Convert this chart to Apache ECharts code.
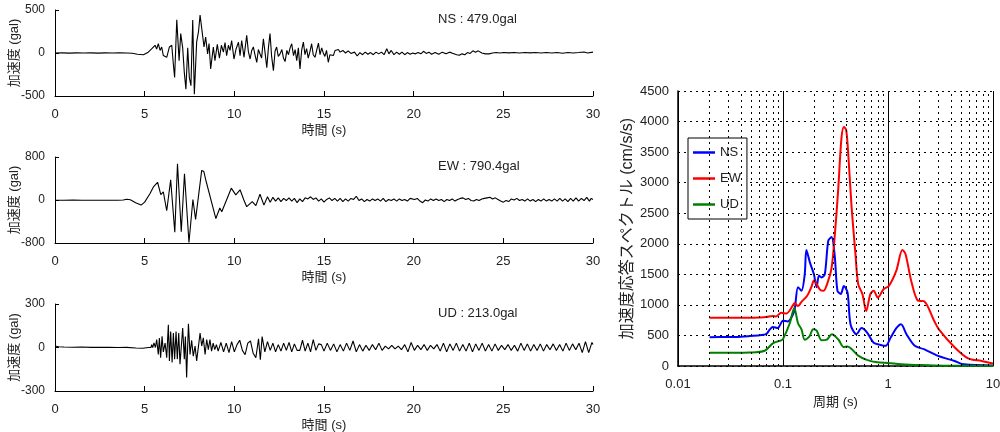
<!DOCTYPE html>
<html>
<head>
<meta charset="utf-8">
<script src="https://cdn.jsdelivr.net/npm/echarts@6/dist/echarts.min.js"></script>
<style>
html,body{margin:0;padding:0;background:#fff;}
#c{width:1000px;height:432px;}
</style>
</head>
<body>
<div id="c"></div>
<script>
// ---------- Data ----------
const componentNames = ['NS', 'EW', 'UD'];
const peakLabels = ['NS : 479.0gal', 'EW : 790.4gal', 'UD : 213.0gal'];
const waveRanges = [500, 800, 300];

// [time (s), acceleration (gal)]
const nsWave = [
[0,0],[0.4,2],[0.8,-1],[1.2,1],[1.6,0],[2.0,2],[2.4,-1],[2.8,1],[3.2,0],[3.6,2],[4.0,0],[4.3,-3],[4.6,-15],[4.93,-20],
[5.2,10],[5.4,50],[5.58,90],[5.67,45],[5.76,110],[5.86,30],[5.95,70],[6.04,-30],[6.12,-10],[6.23,-50],[6.38,70],[6.51,90],
[6.6,-130],[6.67,-285],[6.79,385],[6.92,-90],[7.01,225],[7.12,60],[7.21,-225],[7.3,-420],[7.4,60],[7.49,-285],[7.58,-380],
[7.68,385],[7.77,-479],[7.9,130],[8.0,245],[8.09,440],[8.18,460],[8.31,70],[8.4,185],[8.51,-10],[8.59,110],[8.68,-185],
[8.83,70],[8.92,-90],[9.05,100],[9.17,-60],[9.28,90],[9.39,10],[9.48,120],[9.57,-30],[9.67,90],[9.76,30],[9.85,145],
[9.98,-70],[10.1,50],[10.23,125],[10.32,-30],[10.41,145],[10.54,-50],[10.69,205],[10.78,20],[10.88,-70],[10.97,30],
[11.06,70],[11.15,-20],[11.25,-110],[11.34,40],[11.43,30],[11.52,-60],[11.62,165],[11.71,10],[11.81,-170],[11.9,60],
[11.99,225],[12.08,-40],[12.18,-205],[12.27,20],[12.36,70],[12.45,-40],[12.55,-10],[12.65,40],[12.74,-60],[12.83,-100],
[12.93,30],[13.02,-20],[13.11,60],[13.2,108],[13.3,-30],[13.39,40],[13.48,-90],[13.57,60],[13.66,-185],[13.76,40],
[13.85,127],[13.94,-20],[14.03,50],[14.12,-60],[14.22,20],[14.31,108],[14.4,-20],[14.5,-50],[14.6,40],[14.69,115],
[14.78,-20],[14.87,60],[14.96,0],[15.05,-40],[15.14,30],[15.24,-108],[15.33,-20],[15.43,0],[15.52,-30],[15.62,30],
[15.71,10],[15.8,40],[15.9,10],[16.05,30],[16.2,0],[16.35,25],[16.5,-5],[16.7,10],[16.85,-35],[17.0,5],[17.15,-20],
[17.3,10],[17.45,-15],[17.6,5],[17.75,-20],[17.9,10],[18.05,-10],[18.2,10],[18.35,-20],[18.5,50],[18.62,-10],[18.75,30],
[18.9,-20],[19.05,10],[19.2,-15],[19.35,10],[19.5,-20],[19.65,5],[19.8,-15],[19.95,0],[20.1,-10],[20.25,5],[20.4,-10],
[20.55,20],[20.7,-5],[20.85,10],[21.0,-15],[21.2,5],[21.4,-15],[21.6,10],[21.8,-10],[22.0,10],[22.2,-5],[22.4,-20],
[22.55,-25],[22.7,-10],[22.85,-20],[23.0,5],[23.15,-5],[23.3,25],[23.45,10],[23.6,25],[23.8,0],[24.0,-10],[24.2,-10],
[24.4,0],[24.6,5],[24.8,0],[25.0,5],[25.3,2],[25.6,5],[25.9,0],[26.2,5],[26.5,2],[26.8,5],[27.1,0],[27.4,5],[27.7,0],
[28.0,5],[28.3,-3],[28.6,5],[28.9,0],[29.2,5],[29.5,12],[29.7,0],[30.0,10]
];

const ewWave = [
[0,-5],[0.5,-5],[1,-3],[1.5,-5],[2,-4],[2.5,-5],[3,-5],[3.5,-5],[3.8,0],[4.0,15],[4.2,5],[4.5,-50],[4.8,-95],[5.0,-40],
[5.3,120],[5.5,250],[5.72,330],[5.9,100],[6.04,150],[6.23,-200],[6.45,375],[6.68,-600],[6.83,675],[7.04,-590],[7.22,490],
[7.47,-790],[7.69,10],[7.84,-360],[8.18,550],[8.3,530],[8.44,330],[8.55,340],[8.97,-345],[9.19,-150],[9.3,-220],[9.83,220],
[10.08,95],[10.32,190],[10.53,0],[10.69,-125],[11.0,-30],[11.2,-105],[11.43,106],[11.65,-95],[11.85,60],[12.0,-40],
[12.15,50],[12.3,-20],[12.45,40],[12.6,-30],[12.75,30],[12.9,-10],[13.05,40],[13.2,-20],[13.35,30],[13.5,-50],[13.65,20],
[13.8,-30],[13.95,40],[14.1,20],[14.25,60],[14.4,10],[14.55,40],[14.7,-20],[14.85,20],[15.0,-40],[15.15,10],[15.3,40],
[15.45,-10],[15.6,30],[15.75,-20],[15.9,30],[16.05,-30],[16.2,20],[16.35,-20],[16.5,30],[16.65,10],[16.8,70],[16.95,-10],
[17.1,20],[17.25,-30],[17.4,10],[17.55,-20],[17.7,20],[17.85,-10],[18.0,20],[18.15,-20],[18.3,30],[18.45,-30],[18.6,10],
[18.75,-10],[18.9,20],[19.05,-20],[19.2,20],[19.35,-10],[19.5,10],[19.65,-20],[19.8,30],[19.9,60],[20.05,10],[20.2,30],
[20.35,-20],[20.5,-50],[20.65,0],[20.8,-20],[20.95,20],[21.1,-10],[21.25,20],[21.4,-10],[21.55,10],[21.7,-30],[21.85,10],
[22.0,-10],[22.15,20],[22.3,-20],[22.45,10],[22.6,30],[22.75,40],[22.9,10],[23.05,30],[23.2,-10],[23.35,-20],[23.5,10],
[23.65,-10],[23.8,20],[23.95,30],[24.1,40],[24.25,50],[24.4,20],[24.55,40],[24.7,10],[24.85,-20],[25.0,-40],[25.15,-10],
[25.3,-30],[25.45,20],[25.6,0],[25.75,30],[25.9,-10],[26.05,10],[26.2,-20],[26.35,20],[26.5,-20],[26.65,10],[26.8,-30],
[26.95,10],[27.1,-20],[27.25,20],[27.4,-20],[27.55,10],[27.7,-20],[27.85,20],[28.0,-20],[28.15,30],[28.3,-20],[28.45,20],
[28.6,-30],[28.75,30],[28.9,-20],[29.05,40],[29.2,-20],[29.35,30],[29.5,-10],[29.65,50],[29.8,-20],[29.9,30],[30.0,10]
];

const udWave = [
[0,10],[0.2,5],[0.5,3],[1,2],[1.5,3],[2,1],[2.5,2],[3,1],[3.5,0],[4,1],[4.5,-3],[4.9,-5],[5.2,0],[5.3,10],[5.35,0],
[5.39,20],[5.45,0],[5.52,32],[5.6,0],[5.67,55],[5.76,-48],[5.82,66],[5.89,-70],[5.97,77],[6.04,-30],[6.14,30],[6.23,-70],
[6.32,157],[6.38,-93],[6.45,111],[6.53,-104],[6.6,100],[6.67,-80],[6.75,111],[6.82,-80],[6.9,100],[6.97,-116],[7.05,-127],
[7.12,134],[7.21,-80],[7.27,75],[7.34,-207],[7.44,163],[7.53,-48],[7.62,50],[7.71,-60],[7.81,10],[7.9,-93],[8.01,20],
[8.09,100],[8.18,10],[8.27,66],[8.37,-48],[8.46,55],[8.55,-15],[8.64,55],[8.73,-25],[8.82,30],[8.91,-15],[9.0,20],
[9.1,-25],[9.25,35],[9.4,-30],[9.55,30],[9.7,-35],[9.85,40],[10.0,-30],[10.15,20],[10.3,50],[10.45,-20],[10.6,-50],
[10.75,30],[10.9,45],[11.05,-40],[11.2,-70],[11.35,60],[11.45,-85],[11.55,75],[11.7,-30],[11.85,40],[12.0,-20],[12.15,30],
[12.3,-30],[12.45,20],[12.6,-25],[12.75,30],[12.9,-20],[13.05,35],[13.2,-30],[13.35,25],[13.5,-20],[13.65,-20],[13.8,50],
[13.95,-25],[14.1,30],[14.25,-30],[14.4,55],[14.55,-20],[14.7,25],[14.85,20],[15.0,-25],[15.18,30],[15.36,-20],[15.54,25],
[15.72,-30],[15.9,20],[16.08,-25],[16.26,30],[16.44,-20],[16.62,45],[16.8,-30],[16.98,20],[17.16,-25],[17.34,15],
[17.52,-20],[17.7,20],[17.88,-15],[18.06,30],[18.24,-20],[18.42,10],[18.6,-10],[18.78,15],[18.96,-10],[19.14,10],
[19.32,-15],[19.5,20],[19.68,-30],[19.86,35],[20.04,-20],[20.22,15],[20.4,-15],[20.58,20],[20.76,-20],[20.94,15],
[21.12,-10],[21.3,20],[21.48,-25],[21.66,30],[21.84,-30],[22.02,25],[22.2,-20],[22.38,30],[22.56,-25],[22.74,20],
[22.92,-25],[23.1,30],[23.28,-30],[23.46,25],[23.64,-20],[23.82,30],[24.0,-25],[24.18,20],[24.36,-25],[24.54,25],
[24.72,-20],[24.9,15],[25.08,-15],[25.26,20],[25.44,-20],[25.62,15],[25.8,-25],[25.98,30],[26.16,-20],[26.34,25],
[26.52,-25],[26.7,20],[26.88,-20],[27.06,25],[27.24,-25],[27.42,20],[27.6,-15],[27.78,25],[27.96,-20],[28.14,20],
[28.32,-25],[28.5,30],[28.68,-20],[28.86,25],[29.04,-15],[29.22,30],[29.4,-35],[29.58,40],[29.76,-35],[29.94,35],[30.0,20]
];

// Response spectrum: period (s) and acceleration (cm/s/s)
const nsPeriod = [0.02,0.03,0.04,0.048,0.06,0.069,0.075,0.08,0.089,0.1,0.111,0.125,0.13,0.139,0.15,0.161,0.167,0.18,0.197,
  0.209,0.22,0.233,0.25,0.27,0.29,0.31,0.33,0.355,0.38,0.412,0.44,0.5,0.56,0.63,0.73,0.85,0.95,1.06,1.2,1.33,1.5,1.8,2.2,3.0,4.3,5.3,10];
const nsAccel  = [470,475,480,490,505,520,600,640,620,740,730,850,960,1290,1230,1500,1900,1700,1500,
  1290,1480,1450,1500,2050,2110,1830,1230,1180,1310,1200,680,520,620,550,380,345,330,465,620,685,520,330,275,165,82,27,10];

const ewPeriod = [0.02,0.04,0.06,0.069,0.08,0.086,0.096,0.108,0.125,0.129,0.139,0.15,0.17,0.187,0.197,0.225,0.243,0.27,
  0.29,0.31,0.335,0.36,0.38,0.4,0.42,0.45,0.49,0.52,0.57,0.62,0.68,0.73,0.8,0.91,1.02,1.2,1.37,1.47,1.66,1.93,2.2,2.75,3.05,4.35,5.8,7.8,10];
const ewAccel  = [790,790,795,800,820,810,870,860,1000,1030,980,1050,1150,1300,1400,1250,1230,1400,
  1600,2100,2870,3720,3910,3860,3420,2600,1830,1340,1180,900,1180,1230,1120,1260,1310,1560,1900,1830,1400,1070,1060,740,600,300,125,82,40];

const udPeriod = [0.02,0.03,0.04,0.048,0.067,0.08,0.096,0.1,0.116,0.128,0.139,0.15,0.161,0.178,0.194,0.209,0.233,0.261,
  0.292,0.338,0.378,0.412,0.45,0.52,0.63,0.79,1.0,1.33,2.07,3.44,10];
const udAccel  = [215,215,218,220,250,370,420,440,700,950,700,600,430,480,600,580,420,430,
  520,430,310,320,280,170,100,60,50,30,15,5,2];

// Minor period grid lines
const minorPeriods = [0.02,0.03,0.04,0.05,0.06,0.07,0.08,0.09,0.2,0.3,0.4,0.5,0.6,0.7,0.8,0.9,2,3,4,5,6,7,8,9];

// ---------- Chart ----------
const FONT = "'Liberation Sans', Arial, 'Noto Sans CJK JP', sans-serif";
const chart = echarts.init(document.getElementById('c'), null, {renderer: 'canvas'});

const waveTops = [10, 157, 304];
const waveHeights = [86, 86, 87];
const waves = [nsWave, ewWave, udWave];

const grids = [];
const xAxes = [];
const yAxes = [];
const series = [];
const graphics = [];

for (let i = 0; i < 3; i++) {
  grids.push({left: 55, right: 407, top: waveTops[i], height: waveHeights[i], containLabel: false, outerBoundsMode: 'none'});
  xAxes.push({
    type: 'value', gridIndex: i, min: 0, max: 30, interval: 5,
    name: '時間 (s)', nameLocation: 'middle', nameGap: 28, nameMoveOverlap: false,
    nameTextStyle: {fontFamily: FONT, fontSize: 13, color: '#222'},
    axisLine: {onZero: false, lineStyle: {color: '#000', width: 1}},
    axisTick: {inside: true, length: 5, lineStyle: {color: '#000'}},
    axisLabel: {fontFamily: FONT, fontSize: 13, color: '#222', margin: 12},
    splitLine: {show: false}
  });
  const r = waveRanges[i];
  yAxes.push({
    type: 'value', gridIndex: i, min: -r, max: r, interval: r,
    name: '加速度 (gal)', nameLocation: 'middle', nameGap: 34, nameMoveOverlap: false,
    nameTextStyle: {fontFamily: FONT, fontSize: 13, color: '#222'},
    axisLine: {show: true, lineStyle: {color: '#000', width: 1}},
    axisTick: {show: true, inside: true, length: 4, lineStyle: {color: '#000'}},
    axisLabel: {fontFamily: FONT, fontSize: 12, color: '#222', margin: 10, formatter: v => String(v)},
    splitLine: {show: false}
  });
  series.push({
    type: 'line', xAxisIndex: i, yAxisIndex: i, data: waves[i],
    showSymbol: false, symbol: 'none',
    lineStyle: {color: '#000', width: 1.1}, silent: true
  });
  graphics.push({
    type: 'text', left: 438, top: waveTops[i] + 3,
    style: {text: peakLabels[i], font: '13px ' + FONT, fill: '#222'}
  });
}

// Spectrum grid
grids.push({left: 678, right: 7, top: 91, height: 275, containLabel: false, outerBoundsMode: 'none'});
xAxes.push({
  type: 'log', gridIndex: 3, min: 0.01, max: 10, logBase: 10,
  name: '周期 (s)', nameLocation: 'middle', nameGap: 30, nameMoveOverlap: false,
  nameTextStyle: {fontFamily: FONT, fontSize: 13, color: '#222'},
  axisLine: {onZero: false, lineStyle: {color: '#000', width: 1.5}},
  axisTick: {show: false},
  axisLabel: {fontFamily: FONT, fontSize: 13, color: '#222', margin: 12,
    formatter: v => String(v)},
  splitLine: {show: true, lineStyle: {color: '#000', width: 1, type: 'solid'}}
});
yAxes.push({
  type: 'value', gridIndex: 3, min: 0, max: 4500, interval: 500,
  name: '加速度応答スペクトル (cm/s/s)', nameLocation: 'middle', nameGap: 42, nameMoveOverlap: false,
  nameTextStyle: {fontFamily: FONT, fontSize: 16, color: '#222'},
  axisLine: {show: true, lineStyle: {color: '#000', width: 1.5}},
  axisTick: {show: false},
  axisLabel: {fontFamily: FONT, fontSize: 13, color: '#222', margin: 9, formatter: v => String(v)},
  splitLine: {show: true, lineStyle: {color: '#000', width: 1, type: [2, 4]}}
});

series.push({
  name: 'minor', type: 'line', xAxisIndex: 3, yAxisIndex: 3, data: [], silent: true, z: 1,
  markLine: {
    silent: true, symbol: ['none', 'none'], animation: false,
    label: {show: false},
    lineStyle: {color: '#000', width: 1, type: [2, 4]},
    data: minorPeriods.map(p => ({xAxis: p}))
  }
});

const specColors = ['#0000ff', '#ff0000', '#008000'];
const specData = [[nsPeriod, nsAccel], [ewPeriod, ewAccel], [udPeriod, udAccel]];
for (let k = 0; k < 3; k++) {
  const [T, A] = specData[k];
  series.push({
    name: componentNames[k], type: 'line', xAxisIndex: 3, yAxisIndex: 3,
    data: T.map((t, j) => [t, A[j]]),
    showSymbol: false, symbol: 'none', smooth: 0.3, z: 3,
    lineStyle: {color: specColors[k], width: 2},
    itemStyle: {color: specColors[k]}
  });
}

chart.setOption({
  animation: false,
  backgroundColor: '#fff',
  textStyle: {fontFamily: FONT},
  grid: grids,
  xAxis: xAxes,
  yAxis: yAxes,
  series: series,
  legend: {
    data: componentNames, orient: 'vertical', left: 688, top: 138,
    backgroundColor: '#fff', borderColor: '#000', borderWidth: 1,
    icon: 'rect', itemWidth: 22, itemHeight: 2.5,
    padding: [8, 6, 8, 5], itemGap: 13,
    textStyle: {fontFamily: FONT, fontSize: 13, color: '#222'},
    selectedMode: false
  },
  graphic: graphics
});
</script>
</body>
</html>
